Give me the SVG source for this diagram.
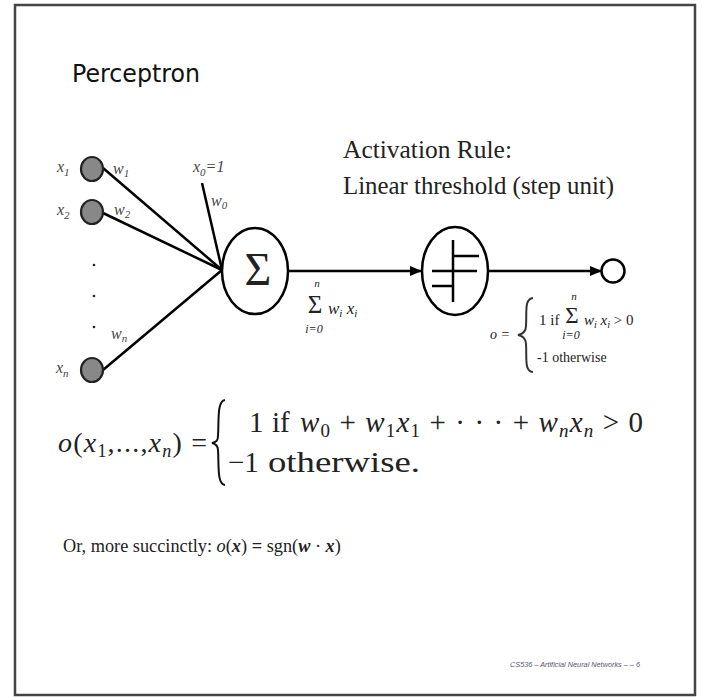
<svg xmlns="http://www.w3.org/2000/svg" width="702" height="697" viewBox="0 0 702 697">
<style>
.ln{stroke:#000;stroke-width:2.5;fill:none}
.in{fill:#888;stroke:#222;stroke-width:2.2}
.nd{fill:#fff;stroke:#000;stroke-width:2.5}
.lb{font-family:"Liberation Serif",serif;font-style:italic;fill:#444;font-size:16px}
.sr{font-family:"Liberation Serif",serif;fill:#222}
.it{font-style:italic}
</style>
<defs>
<marker id="ah" viewBox="0 0 12 10" refX="11" refY="5" markerWidth="12" markerHeight="10" markerUnits="userSpaceOnUse" orient="auto">
<path d="M0,0 L12,5 L0,10 z" fill="#000"/>
</marker>
</defs>
<rect x="15" y="5" width="680" height="690" fill="#fff" stroke="#444" stroke-width="2.5"/>
<text x="72" y="82" font-family="DejaVu Sans, sans-serif" font-size="25" fill="#111" textLength="128" lengthAdjust="spacingAndGlyphs">Perceptron</text>
<g id="connectors">
<line class="ln" x1="103" y1="168" x2="222" y2="270"/>
<line class="ln" x1="103" y1="213" x2="222" y2="270"/>
<line class="ln" x1="103" y1="370" x2="222" y2="270"/>
<line class="ln" x1="202" y1="183" x2="222" y2="270"/>
<line class="ln" x1="288" y1="271" x2="421" y2="271" marker-end="url(#ah)"/>
<line class="ln" x1="488" y1="271" x2="601" y2="271" marker-end="url(#ah)"/>
</g>
<g id="x1"><ellipse class="in" cx="92" cy="169" rx="11" ry="12"/>
<text class="lb" x="57" y="172">x<tspan font-size="11" dy="4">1</tspan></text>
<text class="lb" x="113" y="174">w<tspan font-size="11" dy="3">1</tspan></text></g>
<g id="x2"><ellipse class="in" cx="92" cy="212" rx="11" ry="12"/>
<text class="lb" x="57" y="215">x<tspan font-size="11" dy="4">2</tspan></text>
<text class="lb" x="114" y="215">w<tspan font-size="11" dy="3">2</tspan></text></g>
<g id="dots" fill="#222"><circle cx="94" cy="265" r="1.3"/><circle cx="94" cy="296" r="1.3"/><circle cx="94" cy="327" r="1.3"/></g>
<g id="xn"><ellipse class="in" cx="92" cy="370" rx="11" ry="12"/>
<text class="lb" x="56" y="373">x<tspan font-size="11" dy="4">n</tspan></text>
<text class="lb" x="111" y="339">w<tspan font-size="11" dy="3">n</tspan></text></g>
<g id="x0"><text class="lb" x="193" y="172">x<tspan font-size="11" dy="4">0</tspan><tspan dy="-4">=1</tspan></text>
<text class="lb" x="211" y="206">w<tspan font-size="11" dy="3">0</tspan></text></g>
<g id="sum"><ellipse class="nd" cx="255" cy="271" rx="33" ry="43"/>
<text class="sr" x="258" y="285" font-size="46" text-anchor="middle" fill="#000">Σ</text></g>
<g id="sumlabel" class="sr" fill="#444">
<text x="315" y="313" font-size="25" text-anchor="middle">Σ</text>
<text class="it" x="317" y="287" font-size="11" text-anchor="middle">n</text>
<text class="it" x="314" y="333" font-size="12" text-anchor="middle">i=0</text>
<text class="it" x="328" y="314" font-size="17">w<tspan font-size="11" dy="3">i</tspan><tspan dy="-3"> x</tspan><tspan font-size="11" dy="3">i</tspan></text>
</g>
<g id="step"><ellipse class="nd" cx="455" cy="271" rx="33" ry="44"/>
<path d="M453,240 V302 M432,271 H477 M453,256 H479 M432,286 H453" stroke="#000" stroke-width="2.5" fill="none"/></g>
<g id="out"><circle class="nd" cx="613" cy="271" r="11.5"/></g>
<g id="outlabel" class="sr" fill="#444">
<text class="it" x="490" y="339" font-size="14">o =</text>
<path d="M533,298 C524,299 527,312 526,326 C526,332 523,334 518,335 C523,336 526,338 526,344 C527,358 524,371 533,372" stroke="#333" stroke-width="2" fill="none"/>
<text x="539" y="325" font-size="15">1 if</text>
<text x="572" y="323" font-size="23" text-anchor="middle">Σ</text>
<text class="it" x="574" y="300" font-size="11" text-anchor="middle">n</text>
<text class="it" x="571" y="339" font-size="12" text-anchor="middle">i=0</text>
<text x="584" y="325" font-size="15"><tspan class="it">w</tspan><tspan class="it" font-size="10" dy="3">i</tspan><tspan class="it" dy="-3"> x</tspan><tspan class="it" font-size="10" dy="3">i</tspan><tspan dy="-3"> &gt; 0</tspan></text>
<text x="537" y="362" font-size="14">-1 otherwise</text>
</g>
<g id="activation" class="sr" fill="#111" font-family="Liberation Serif, serif">
<text x="343" y="158" font-size="25" textLength="169" lengthAdjust="spacingAndGlyphs">Activation Rule:</text>
<text x="343" y="194" font-size="25" textLength="271" lengthAdjust="spacingAndGlyphs">Linear threshold (step unit)</text>
</g>
<g id="formula" class="sr" fill="#111" font-size="29">
<text x="58" y="452" font-size="28" textLength="149" lengthAdjust="spacing"><tspan class="it">o</tspan>(<tspan class="it">x</tspan><tspan font-size="18" dy="5">1</tspan><tspan dy="-5">,...,</tspan><tspan class="it">x</tspan><tspan font-size="18" class="it" dy="5">n</tspan><tspan dy="-5">) =</tspan></text>
<path d="M225,400 C217,401 219,420 218,436 C218,441 216,442 212,443 C216,444 218,446 218,450 C219,466 217,484 225,485" stroke="#111" stroke-width="2" fill="none"/>
<text x="249" y="432">1</text>
<text x="272" y="432">if</text>
<text x="300" y="432" textLength="343" lengthAdjust="spacing"><tspan class="it">w</tspan><tspan font-size="19" dy="5">0</tspan><tspan dy="-5"> + </tspan><tspan class="it">w</tspan><tspan font-size="19" dy="5">1</tspan><tspan class="it" dy="-5">x</tspan><tspan font-size="19" dy="5">1</tspan><tspan dy="-5"> + · · · + </tspan><tspan class="it">w</tspan><tspan font-size="19" class="it" dy="5">n</tspan><tspan class="it" dy="-5">x</tspan><tspan font-size="19" class="it" dy="5">n</tspan><tspan dy="-5"> &gt; 0</tspan></text>
<text x="228" y="472">−1</text>
<text x="268" y="472" textLength="152" lengthAdjust="spacingAndGlyphs">otherwise.</text>
</g>
<g id="succinct" class="sr" fill="#111" font-size="18.3">
<text x="63" y="552">Or, more succinctly: <tspan class="it">o</tspan>(<tspan class="it" font-weight="bold">x</tspan>) <tspan font-weight="bold">=</tspan> sgn(<tspan class="it" font-weight="bold">w</tspan> · <tspan class="it" font-weight="bold">x</tspan>)</text>
</g>
<text x="510" y="667" font-family="Liberation Sans, sans-serif" font-style="italic" font-size="7" fill="#557" textLength="130" lengthAdjust="spacingAndGlyphs">CS536 – Artificial Neural Networks – – 6</text>
</svg>
